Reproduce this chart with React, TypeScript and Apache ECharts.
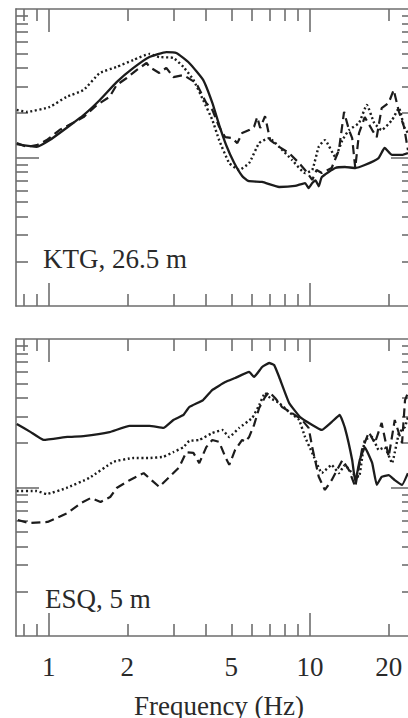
import React, { useEffect, useRef } from "react";
import * as echarts from "echarts";

// ---- axis ticks / labels ----
const xMajorTicks = [1, 10];
const xMinorTicks = [0.8, 0.9, 2, 3, 4, 5, 6, 7, 8, 9, 20];
const xTickLabels = [1, 2, 5, 10, 20];
const yMajorTicks = [10];
const yMinorTicks = [2, 3, 4, 5, 6, 7, 8, 9, 20, 30, 40, 50, 60, 70, 80, 90];
const panelLabels = ["KTG, 26.5 m", "ESQ, 5 m"];
const xAxisName = "Frequency (Hz)";

// ---- top panel (KTG, 26.5 m): [frequency Hz, amplitude] ----
const ktgSolid: [number, number][] = [
  [0.755, 12.3], [0.9, 11.8], [1.01, 13.1], [1.17, 15.8], [1.36, 19.3], [1.57, 24.4],
  [1.82, 32.2], [2.11, 40.1], [2.43, 47.5], [2.82, 51.3], [3.08, 50.6], [3.45, 43.3],
  [3.9, 33.3], [4.23, 23.3], [4.49, 16.6], [4.78, 12.1], [5.13, 9.18], [5.5, 7.51],
  [5.8, 6.95], [6.56, 6.84], [7.62, 6.33], [8.76, 6.43], [9.57, 6.73], [9.88, 6.23],
  [10.2, 6.73], [10.5, 7.0], [10.8, 6.4], [11.1, 7.39], [12.5, 8.5], [13.6, 8.63],
  [14.9, 8.5], [16.2, 8.9], [18.3, 9.92], [19.3, 11.6], [20.6, 10.4], [22.5, 10.4], [23.7, 10.7],
];
const ktgDashed: [number, number][] = [
  [0.755, 12.5], [0.824, 11.8], [0.9, 12.1], [0.983, 13.1], [1.1, 15.3], [1.2, 16.6],
  [1.36, 18.7], [1.53, 22.6], [1.71, 25.6], [1.82, 30.8], [1.99, 34.3], [2.17, 38.8],
  [2.37, 43.3], [2.43, 40.7], [2.65, 37.1], [2.82, 40.1], [3.0, 34.8], [3.28, 35.9],
  [3.67, 31.7], [4.01, 23.3], [4.23, 20.9], [4.49, 16.1], [4.74, 13.7], [5.04, 13.5],
  [5.27, 12.5], [5.5, 14.6], [5.85, 15.3], [6.11, 16.1], [6.28, 18.7], [6.45, 15.8],
  [6.73, 19.0], [7.04, 13.1], [7.62, 11.8], [8.32, 10.7], [9.08, 9.18], [9.57, 8.24],
  [10.2, 7.06], [10.6, 8.24], [11.1, 7.86], [12.1, 8.5], [12.9, 11.2], [13.5, 20.3],
  [14.1, 15.3], [14.5, 13.5], [14.9, 8.5], [15.4, 14.6], [16.2, 18.7], [17.3, 15.3],
  [18.0, 13.7], [18.8, 21.5], [20.0, 23.3], [20.9, 28.5], [21.9, 20.3], [22.9, 16.1], [23.7, 11.2],
];
const ktgDotted: [number, number][] = [
  [0.755, 20.9], [0.824, 20.3], [1.01, 21.9], [1.17, 25.6], [1.36, 28.5], [1.57, 37.1],
  [1.82, 40.7], [2.11, 45.4], [2.43, 49.8], [2.65, 47.5], [3.0, 46.8], [3.28, 40.7],
  [3.58, 33.3], [3.9, 24.4], [4.23, 17.9], [4.49, 13.1], [4.91, 9.18], [5.36, 8.24],
  [5.85, 9.18], [6.39, 12.5], [6.98, 13.5], [7.62, 11.8], [8.54, 9.62], [9.57, 7.86],
  [10.2, 8.24], [10.8, 11.8], [11.4, 13.1], [12.5, 10.1], [13.3, 13.1], [14.1, 15.3],
  [15.4, 17.1], [16.5, 22.6], [17.6, 17.1], [18.8, 15.3], [20.6, 17.9], [21.9, 21.5],
  [22.9, 16.1], [23.7, 14.6],
];

// ---- bottom panel (ESQ, 5 m) ----
const esqSolid: [number, number][] = [
  [0.755, 26.8], [0.854, 23.6], [0.957, 20.9], [1.18, 21.9], [1.36, 22.2], [1.71, 23.6],
  [2.04, 26.0], [2.43, 26.0], [2.75, 25.2], [3.0, 28.5], [3.28, 30.8], [3.45, 34.8],
  [3.9, 38.8], [4.23, 45.4], [4.74, 51.3], [5.17, 54.6], [5.85, 60.0], [6.11, 55.5],
  [6.56, 64.8], [6.98, 68.9], [7.29, 66.8], [7.62, 55.5], [8.32, 37.1], [9.16, 29.8],
  [10.2, 26.4], [11.1, 24.4], [12.1, 27.6], [13.0, 30.8], [13.6, 25.2], [14.5, 15.3],
  [14.9, 10.9], [15.5, 15.3], [16.2, 18.7], [17.3, 14.6], [18.0, 10.4], [18.8, 11.8],
  [20.0, 12.1], [21.1, 11.2], [22.5, 10.4], [23.7, 12.5],
];
const esqDotted: [number, number][] = [
  [0.755, 9.47], [0.9, 9.47], [0.983, 9.04], [1.17, 9.92], [1.43, 11.6], [1.77, 14.9],
  [2.11, 15.8], [2.43, 15.8], [2.75, 16.1], [3.0, 17.3], [3.28, 18.7], [3.45, 20.6],
  [3.77, 20.9], [4.23, 23.3], [4.62, 24.4], [4.91, 21.9], [5.36, 25.2], [6.01, 29.4],
  [6.39, 35.9], [6.73, 43.3], [7.04, 40.1], [7.62, 37.1], [8.32, 32.2], [9.08, 28.5],
  [9.57, 21.9], [10.2, 17.1], [11.1, 12.5], [12.1, 14.2], [12.9, 12.5], [13.6, 14.2],
  [14.5, 12.5], [15.4, 11.8], [16.2, 20.9], [17.3, 21.9], [18.3, 17.9], [19.3, 18.7],
  [20.6, 14.6], [21.9, 23.3], [23.1, 25.6], [23.7, 29.8],
];
const esqDashed: [number, number][] = [
  [0.762, 6.04], [0.839, 5.77], [0.991, 5.86], [1.18, 6.73], [1.33, 7.86], [1.45, 8.5],
  [1.58, 7.99], [1.72, 8.63], [1.82, 9.92], [2.04, 11.2], [2.31, 12.5], [2.52, 10.9],
  [2.65, 10.1], [2.9, 11.8], [3.16, 13.7], [3.36, 17.3], [3.58, 17.1], [3.77, 14.6],
  [4.01, 18.7], [4.23, 20.9], [4.49, 20.3], [4.74, 16.1], [4.91, 14.2], [5.17, 17.9],
  [5.5, 20.9], [5.65, 20.3], [5.85, 21.9], [6.11, 26.4], [6.39, 34.3], [6.73, 40.7],
  [6.98, 44.0], [7.35, 40.1], [7.82, 34.8], [8.54, 31.7], [9.32, 28.5], [9.88, 25.2],
  [10.2, 18.7], [10.8, 11.8], [11.4, 9.62], [12.1, 11.2], [13.3, 15.3], [14.1, 13.1],
  [14.9, 10.1], [15.8, 17.9], [16.8, 23.6], [17.7, 19.9], [18.8, 27.2], [20.0, 16.1],
  [21.1, 28.5], [22.5, 19.9], [23.1, 38.8], [23.7, 43.3],
];

const FONT = "Liberation Serif";
const AXIS_COLOR = "#6e6e6e";
const TEXT_COLOR = "#2a2a2a";
const LINE_COLOR = "#1c1c1c";
const X_MIN = 0.75;
const X_MAX = 25;
const Y_MIN = 1;
const Y_MAX = 100;

function makeXAxes(gridIndex: number, withLabels: boolean) {
  const mk = (position: string, ticks: number[], len: number, line: boolean, labels: boolean) => ({
    type: "log",
    gridIndex,
    min: X_MIN,
    max: X_MAX,
    position,
    splitLine: { show: false },
    axisLine: { show: line, onZero: false, lineStyle: { color: AXIS_COLOR, width: 1.6 } },
    axisTick: {
      show: true,
      inside: true,
      length: len,
      customValues: ticks,
      lineStyle: { color: AXIS_COLOR, width: 1.6 },
    },
    axisLabel: labels
      ? {
          show: true,
          customValues: xTickLabels,
          margin: 17,
          fontFamily: FONT,
          fontSize: 27,
          color: TEXT_COLOR,
          formatter: (v: number) => String(Math.round(v)),
        }
      : { show: false },
    ...(labels
      ? {
          name: xAxisName,
          nameLocation: "middle",
          nameGap: 56,
          nameTextStyle: { fontFamily: FONT, fontSize: 27, color: TEXT_COLOR, padding: [0, 0, 0, 8] },
        }
      : {}),
  });
  return [
    mk("bottom", xMajorTicks, 23, true, withLabels),
    mk("bottom", xMinorTicks, 12, false, false),
    mk("top", xMajorTicks, 23, true, false),
    mk("top", xMinorTicks, 12, false, false),
  ];
}

function makeYAxes(gridIndex: number) {
  const mk = (position: string, ticks: number[], len: number, line: boolean) => ({
    type: "log",
    gridIndex,
    position,
    min: Y_MIN,
    max: Y_MAX,
    splitLine: { show: false },
    axisLine: { show: line, onZero: false, lineStyle: { color: AXIS_COLOR, width: 1.6 } },
    axisTick: {
      show: true,
      inside: true,
      length: len,
      customValues: ticks,
      lineStyle: { color: AXIS_COLOR, width: 1.6 },
    },
    axisLabel: { show: false },
  });
  return [
    mk("left", yMajorTicks, 23, true),
    mk("left", yMinorTicks, 12, false),
    mk("right", yMajorTicks, 23, false),
    mk("right", yMinorTicks, 12, false),
  ];
}

function lineSeries(name: string, data: [number, number][], dash: any, axisIndex: number, width: number, smooth: number) {
  return {
    name,
    type: "line",
    data,
    xAxisIndex: axisIndex,
    yAxisIndex: axisIndex,
    showSymbol: false,
    symbol: "none",
    smooth,
    lineStyle: { color: LINE_COLOR, width, type: dash, cap: "butt" },
  };
}

export default function App() {
  const ref = useRef<HTMLDivElement>(null);
  useEffect(() => {
    if (!ref.current) return;
    const chart = echarts.init(ref.current, undefined, { renderer: "svg" });
    const option: any = {
      animation: false,
      backgroundColor: "#ffffff",
      grid: [
        { left: 16, top: 9, width: 398, height: 297, outerBoundsMode: "none", containLabel: false },
        { left: 16, top: 339, width: 398, height: 297, outerBoundsMode: "none", containLabel: false },
      ],
      xAxis: [...makeXAxes(0, false), ...makeXAxes(1, true)],
      yAxis: [...makeYAxes(0), ...makeYAxes(1)],
      series: [
        lineSeries("KTG dotted", ktgDotted, [2, 2.6], 0, 2.4, 0.15),
        lineSeries("KTG dashed", ktgDashed, [9, 5], 0, 2.2, 0),
        lineSeries("KTG solid", ktgSolid, "solid", 0, 2.3, 0.15),
        lineSeries("ESQ dotted", esqDotted, [2, 2.6], 4, 2.4, 0.1),
        lineSeries("ESQ dashed", esqDashed, [9, 5], 4, 2.2, 0),
        lineSeries("ESQ solid", esqSolid, "solid", 4, 2.3, 0.1),
      ],
      graphic: [
        {
          type: "text",
          left: 43,
          top: 245,
          style: { text: panelLabels[0], fontFamily: FONT, fontSize: 27, fill: TEXT_COLOR },
        },
        {
          type: "text",
          left: 45,
          top: 585,
          style: { text: panelLabels[1], fontFamily: FONT, fontSize: 27, fill: TEXT_COLOR },
        },
      ],
    };
    chart.setOption(option);
    return () => chart.dispose();
  }, []);
  return (
    <div
      ref={ref}
      style={{ position: "absolute", left: 0, top: 0, width: 408, height: 718, background: "#fff" }}
    />
  );
}
